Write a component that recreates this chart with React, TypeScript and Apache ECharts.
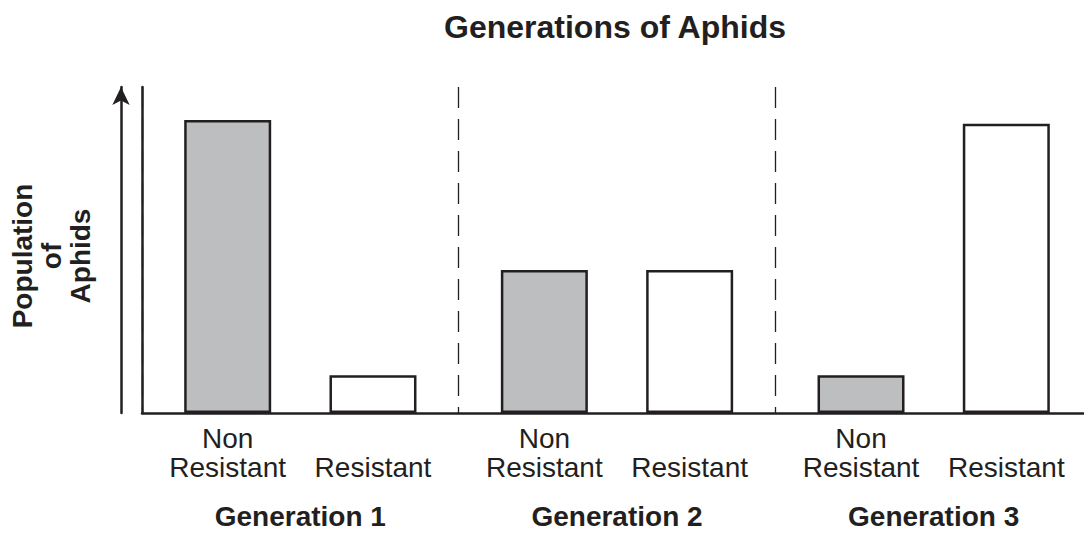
import React, { useEffect, useRef } from "react";
import * as echarts from "echarts";

const generations = ["Generation 1", "Generation 2", "Generation 3"];
const nonResistant = [89.9, 43.9, 11.6];
const resistant = [11.6, 43.9, 88.7];
const nonResistantLabel = "Non\nResistant";
const resistantLabel = "Resistant";
const titleText = "Generations of Aphids";
const yLabel = "Population\nof\nAphids";

const INK = "#231f20";
const FONT = "'Liberation Sans', Arial, Helvetica, sans-serif";

export default function App() {
  const ref = useRef<HTMLDivElement>(null);
  useEffect(() => {
    if (!ref.current) return;
    const chart = echarts.init(ref.current, null, { renderer: "svg" });
    const barCommon = {
      type: "bar",
      barWidth: 87,
      barGap: "67%",
      itemStyle: { borderColor: INK, borderWidth: 2.5 },
    };
    chart.setOption({
      animation: false,
      backgroundColor: "#ffffff",
      textStyle: { fontFamily: FONT },
      title: {
        text: titleText,
        left: 610,
        top: 6,
        textAlign: "center",
        textStyle: { fontFamily: FONT, fontSize: 32, fontWeight: "bold", color: INK },
      },
      graphic: [
        {
          type: "text",
          x: 51,
          y: 256,
          rotation: Math.PI / 2,
          style: {
            text: yLabel,
            font: `bold 28px ${FONT}`,
            lineHeight: 29,
            fill: INK,
            align: "center",
            verticalAlign: "middle",
          },
        },
      ],
      grid: {
        left: 142,
        top: 87,
        bottom: 121,
        width: 950,
        containLabel: false,
        outerBoundsMode: "none",
      },
      xAxis: {
        type: "category",
        data: generations,
        axisLine: { show: true, lineStyle: { color: INK, width: 2.5 } },
        axisTick: { show: false },
        axisLabel: {
          margin: 89,
          fontFamily: FONT,
          fontSize: 28,
          fontWeight: "bold",
          lineHeight: 28,
          color: INK,
        },
        splitLine: {
          show: true,
          lineStyle: { color: INK, width: 1.3, type: [21, 11] },
        },
      },
      yAxis: [
        {
          type: "value",
          min: 0,
          max: 100,
          axisLine: { show: true, lineStyle: { color: INK, width: 2.5 } },
          axisTick: { show: false },
          axisLabel: { show: false },
          splitLine: { show: false },
        },
        {
          type: "value",
          min: 0,
          max: 100,
          position: "left",
          offset: 21,
          axisLine: {
            show: true,
            symbol: ["none", "arrow"],
            symbolSize: [13, 18],
            symbolOffset: [0, 0],
            lineStyle: { color: INK, width: 2.5 },
          },
          axisTick: { show: false },
          axisLabel: { show: false },
          splitLine: { show: false },
        },
      ],
      series: [
        {
          ...barCommon,
          name: "Non Resistant",
          data: nonResistant,
          itemStyle: { ...barCommon.itemStyle, color: "#bcbec0" },
          label: {
            show: true,
            position: "bottom",
            distance: 11,
            formatter: nonResistantLabel,
            fontFamily: FONT,
            fontSize: 28,
            lineHeight: 29,
            color: INK,
          },
        },
        {
          ...barCommon,
          name: "Resistant",
          data: resistant,
          itemStyle: { ...barCommon.itemStyle, color: "#ffffff" },
          label: {
            show: true,
            position: "bottom",
            distance: 40,
            formatter: resistantLabel,
            fontFamily: FONT,
            fontSize: 28,
            lineHeight: 29,
            color: INK,
          },
        },
      ],
    });
    return () => chart.dispose();
  }, []);
  return (
    <div
      ref={ref}
      style={{ position: "fixed", left: 0, top: 0, width: 1084, height: 534 }}
    />
  );
}
